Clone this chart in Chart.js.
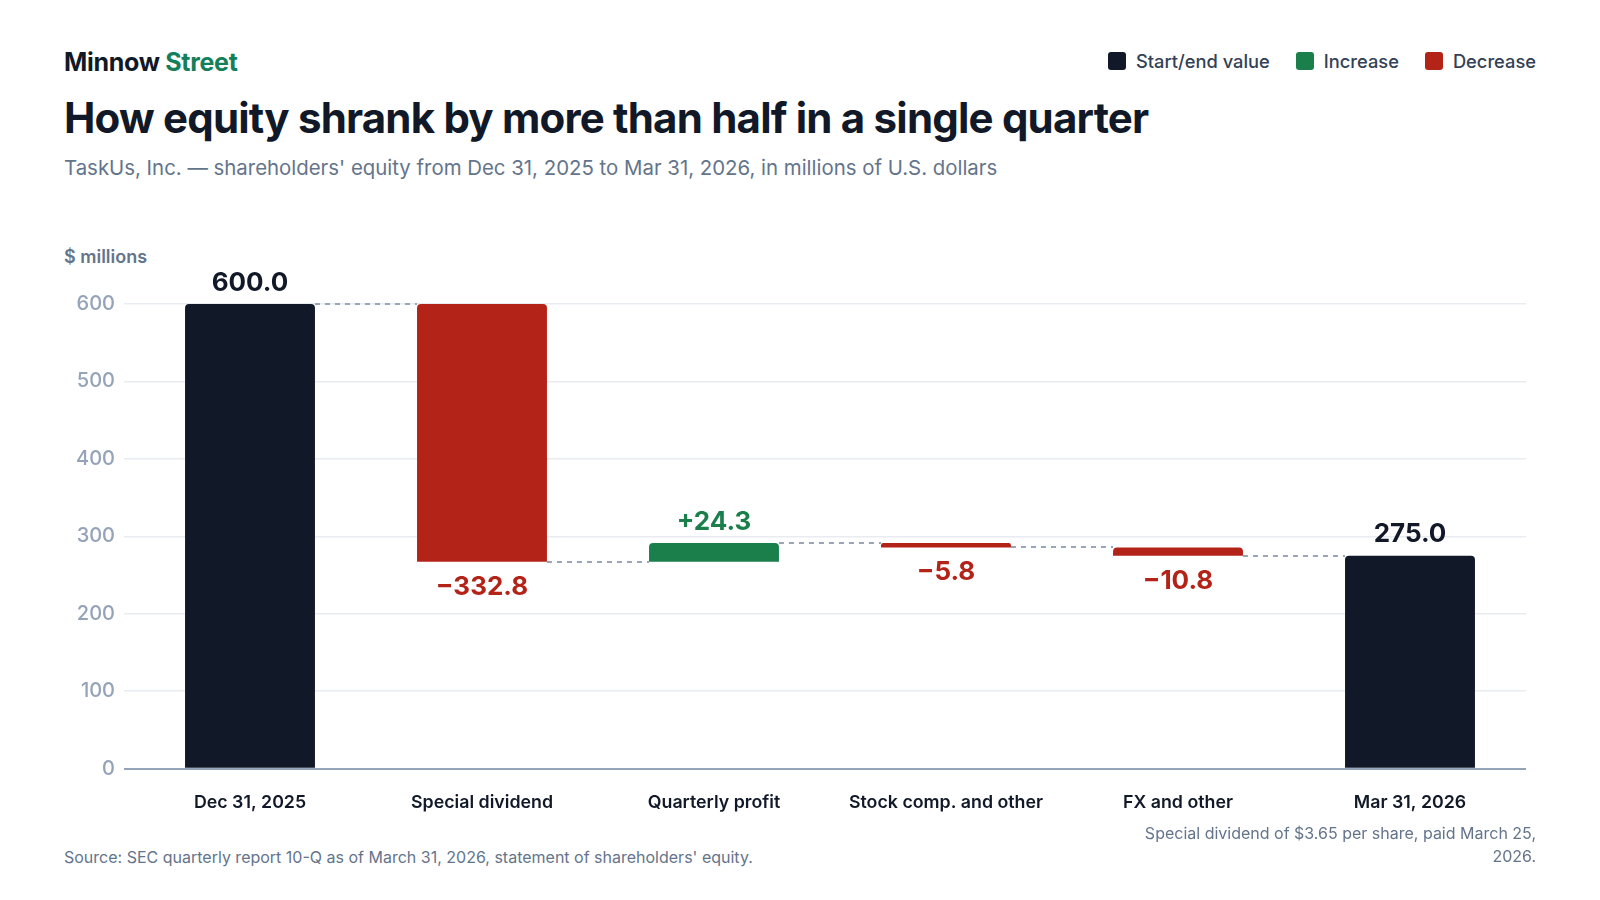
<!DOCTYPE html>
<html>
<head>
<meta charset="utf-8">
<script src="https://cdn.jsdelivr.net/npm/chart.js@4.4.1/dist/chart.umd.min.js"></script>
<style>
  html, body { margin: 0; padding: 0; background: #fff; }
  body { width: 1600px; height: 900px; position: relative; font-family: Inter, "Noto Sans", sans-serif; overflow: hidden; }
  .brand { position: absolute; left: 64px; top: 46px; font-size: 25px; font-weight: 700; color: #111827; letter-spacing: -0.3px; line-height: 32px; }
  .brand span { color: #13805b; }
  .legend { position: absolute; right: 64px; top: 49px; display: flex; align-items: center; font-size: 18.3px; font-weight: 500; color: #334155; line-height: 24px; }
  .legend .item { display: flex; align-items: center; margin-left: 26px; }
  .legend .sw { width: 18px; height: 18px; border-radius: 3px; margin-right: 10px; }
  h1 { position: absolute; left: 64px; top: 92px; margin: 0; font-size: 42px; font-weight: 700; color: #111827; letter-spacing: -0.8px; line-height: 52px; white-space: nowrap; }
  .sub { position: absolute; left: 64px; top: 155px; font-size: 20.4px; color: #64748b; line-height: 26px; white-space: nowrap; }
  .unit { position: absolute; left: 64px; top: 246px; font-size: 18px; font-weight: 600; color: #64748b; line-height: 22px; }
  .chart-box { position: absolute; left: 64px; top: 236px; width: 1472px; height: 600px; }
  .source { position: absolute; left: 64px; top: 846px; font-size: 16px; color: #64748b; line-height: 22px; }
  .note { position: absolute; right: 64px; top: 822px; width: 430px; text-align: right; font-size: 16px; color: #64748b; line-height: 23px; }
</style>
</head>
<body>
<div class="brand">Minnow <span>Street</span></div>
<div class="legend">
  <div class="item"><div class="sw" style="background:#111827"></div>Start/end value</div>
  <div class="item"><div class="sw" style="background:#1b7f4c"></div>Increase</div>
  <div class="item"><div class="sw" style="background:#b42318"></div>Decrease</div>
</div>
<h1>How equity shrank by more than half in a single quarter</h1>
<div class="sub">TaskUs, Inc. — shareholders' equity from Dec 31, 2025 to Mar 31, 2026, in millions of U.S. dollars</div>
<div class="unit">$ millions</div>
<div class="chart-box"><canvas id="waterfall"></canvas></div>
<div class="source">Source: SEC quarterly report 10-Q as of March 31, 2026, statement of shareholders' equity.</div>
<div class="note">Special dividend of $3.65 per share, paid March 25, 2026.</div>

<script>
// chart data
const categories = ['Dec 31, 2025', 'Special dividend', 'Quarterly profit', 'Stock comp. and other', 'FX and other', 'Mar 31, 2026'];
const stepValues = [600.0, -332.8, 24.3, -5.8, -10.8, 275.0];
const stepKinds = ['total', 'change', 'change', 'change', 'change', 'total'];
const yTicks = [0, 100, 200, 300, 400, 500, 600];

const DARK = '#111827';
const GREEN = '#1b7f4c';
const RED = '#b42318';

// floating [from, to] ranges, running total carried along
const ranges = [];
const levels = [];
let running = 0;
stepValues.forEach((v, i) => {
  if (stepKinds[i] === 'total') {
    ranges.push([0, v]);
    running = v;
  } else {
    ranges.push([running, running + v]);
    running = running + v;
  }
  levels.push(running);
});

const colors = stepValues.map((v, i) => stepKinds[i] === 'total' ? DARK : (v >= 0 ? GREEN : RED));

const fmt = (v, kind) => {
  if (kind === 'total') return v.toFixed(1);
  return (v >= 0 ? '+' : '\u2212') + Math.abs(v).toFixed(1);
};

const waterfallExtras = {
  id: 'waterfallExtras',
  beforeDatasetsDraw(chart) {
    const { ctx } = chart;
    const y = chart.scales.y;
    const bars = chart.getDatasetMeta(0).data;
    ctx.save();
    ctx.strokeStyle = '#9aa5b8';
    ctx.lineWidth = 2;
    ctx.setLineDash([5, 5]);
    for (let i = 0; i < bars.length - 1; i++) {
      const a = bars[i], b = bars[i + 1];
      const py = Math.round(y.getPixelForValue(levels[i]));
      ctx.beginPath();
      ctx.moveTo(a.x + a.width / 2, py);
      ctx.lineTo(b.x - b.width / 2, py);
      ctx.stroke();
    }
    ctx.restore();
  },
  afterDatasetsDraw(chart) {
    const { ctx } = chart;
    const bars = chart.getDatasetMeta(0).data;
    ctx.save();
    ctx.font = '700 26px Inter, "Noto Sans", sans-serif';
    ctx.textAlign = 'center';
    ctx.textBaseline = 'middle';
    bars.forEach((bar, i) => {
      const v = stepValues[i];
      const top = Math.min(bar.y, bar.base);
      const bottom = Math.max(bar.y, bar.base);
      ctx.fillStyle = colors[i];
      if (stepKinds[i] === 'total' || v >= 0) {
        ctx.fillText(fmt(v, stepKinds[i]), bar.x, top - 21);
      } else {
        ctx.fillText(fmt(v, stepKinds[i]), bar.x, bottom + 25);
      }
    });
    ctx.restore();
  }
};

new Chart(document.getElementById('waterfall'), {
  type: 'bar',
  data: {
    labels: categories,
    datasets: [{
      data: ranges,
      backgroundColor: colors,
      borderRadius: 4,
      borderSkipped: 'start',
      barPercentage: 0.56,
      categoryPercentage: 1
    }]
  },
  options: {
    responsive: true,
    maintainAspectRatio: false,
    animation: false,
    layout: { padding: { top: 68, right: 10, bottom: 0, left: 0 } },
    plugins: { legend: { display: false }, tooltip: { enabled: false } },
    scales: {
      x: {
        grid: { display: false, drawTicks: false },
        border: { display: false },
        ticks: {
          color: '#111827',
          padding: 23,
          font: { family: 'Inter', size: 17.8, weight: '600' }
        }
      },
      y: {
        min: 0,
        max: 600,
        afterFit(scale) { scale.width = 70; },
        afterBuildTicks(scale) { scale.ticks = yTicks.map(v => ({ value: v })); },
        grid: {
          color: (c) => c.tick && c.tick.value === 0 ? '#94a3b8' : '#e8ecf1',
          lineWidth: (c) => c.tick && c.tick.value === 0 ? 2 : 1.5,
          drawTicks: true,
          tickLength: 10
        },
        border: { display: false },
        ticks: {
          color: '#94a3b8',
          padding: 9,
          font: { family: 'Inter', size: 20, weight: '500' }
        }
      }
    }
  },
  plugins: [waterfallExtras]
});
</script>
</body>
</html>
